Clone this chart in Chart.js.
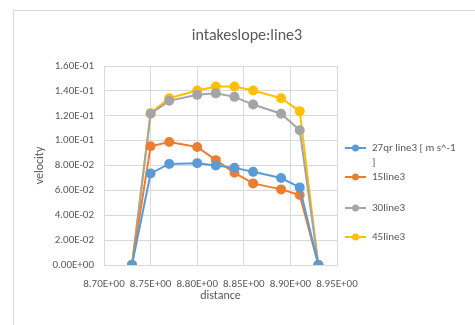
<!DOCTYPE html>
<html>
<head>
<meta charset="utf-8">
<script src="https://cdn.jsdelivr.net/npm/chart.js@4.4.1/dist/chart.umd.min.js"></script>
<style>
  html, body { margin: 0; padding: 0; background: #ffffff; }
  #wrap { width: 475px; height: 325px; }
</style>
</head>
<body>
<div id="wrap"><canvas id="c" width="475" height="325"></canvas></div>
<script>
// distance along the line (x) and velocity for each run
const distance = [8.73, 8.75, 8.77, 8.80, 8.82, 8.84, 8.86, 8.89, 8.91, 8.93];
const run27qr = [0, 0.0736, 0.0813, 0.0819, 0.0800, 0.0781, 0.0749, 0.0699, 0.0624, 0];
const run15   = [0, 0.0955, 0.0989, 0.0949, 0.0843, 0.0741, 0.0656, 0.0608, 0.0563, 0];
const run30   = [0, 0.1216, 0.1320, 0.1368, 0.1380, 0.1352, 0.1290, 0.1216, 0.1083, 0];
const run45   = [0, 0.1221, 0.1341, 0.1403, 0.1435, 0.1435, 0.1403, 0.1341, 0.1237, 0];
const seriesNames = ['27qr line3 [ m s^-1 ]', '15line3', '30line3', '45line3'];
const seriesColors = ['#5B9BD5', '#ED7D31', '#A5A5A5', '#FFC000'];
const xTicks = [8.70, 8.75, 8.80, 8.85, 8.90, 8.95];
const titleText = 'intakeslope:line3';

const FONT = "Carlito, 'Liberation Sans Narrow', 'Open Sans', sans-serif";
const TEXT = '#595959';

function sci(v) {
  const s = Number(v).toExponential(2).toUpperCase();
  const m = s.match(/^(-?[\d.]+)E([+-])(\d+)$/);
  if (!m) return s;
  return m[1] + 'E' + m[2] + m[3].padStart(2, '0');
}

const allSeries = [run27qr, run15, run30, run45];
const datasets = allSeries.map((vals, i) => ({
  label: seriesNames[i],
  data: vals.map((v, k) => ({ x: distance[k], y: v })),
  borderColor: seriesColors[i],
  backgroundColor: seriesColors[i],
  borderWidth: 2,
  pointRadius: 4,
  pointHoverRadius: 4,
  showLine: true,
  tension: 0
}));

// outer chart frame, title and right-hand legend
const decor = {
  id: 'decor',
  beforeDraw(chart) {
    const ctx = chart.ctx;
    ctx.save();
    ctx.fillStyle = '#ffffff';
    ctx.fillRect(0, 0, chart.width, chart.height);
    ctx.strokeStyle = '#D9D9D9';
    ctx.lineWidth = 1;
    ctx.strokeRect(13.5, 10.5, 600, 600);
    ctx.restore();
  },
  afterDraw(chart) {
    const ctx = chart.ctx;
    ctx.save();
    ctx.fillStyle = TEXT;
    ctx.font = "16px " + FONT;
    ctx.textAlign = 'center';
    ctx.textBaseline = 'middle';
    ctx.fillText(titleText, 247, 36);

    ctx.font = "11px " + FONT;
    ctx.textAlign = 'left';
    const ys = [148, 177, 208, 237];
    const maxW = 84;
    chart.data.datasets.forEach((ds, i) => {
      const y = ys[i];
      ctx.strokeStyle = ds.borderColor;
      ctx.fillStyle = ds.borderColor;
      ctx.lineWidth = 2;
      ctx.beginPath();
      ctx.moveTo(345, y);
      ctx.lineTo(366, y);
      ctx.stroke();
      ctx.beginPath();
      ctx.arc(355.5, y, 3.5, 0, Math.PI * 2);
      ctx.fill();
      // wrap long names onto a second line
      const words = ds.label.split(' ');
      const lines = [];
      let cur = '';
      words.forEach(w => {
        const test = cur ? cur + ' ' + w : w;
        if (ctx.measureText(test).width > maxW && cur) { lines.push(cur); cur = w; }
        else cur = test;
      });
      lines.push(cur);
      ctx.fillStyle = TEXT;
      lines.forEach((ln, j) => ctx.fillText(ln, 372, y + j * 14));
    });
    ctx.restore();
  }
};

new Chart(document.getElementById('c'), {
  type: 'scatter',
  data: { datasets },
  options: {
    responsive: false,
    animation: false,
    devicePixelRatio: 1,
    layout: { padding: { left: 13, right: 138, top: 66, bottom: 22 } },
    plugins: { legend: { display: false }, title: { display: false }, tooltip: { enabled: false } },
    scales: {
      x: {
        type: 'linear',
        min: 8.70, max: 8.95,
        afterBuildTicks(scale) { scale.ticks = xTicks.map(v => ({ value: v })); },
        afterFit(scale) { scale.height = 38; },
        grid: { color: '#D9D9D9', drawTicks: false },
        border: { color: '#D9D9D9' },
        ticks: { padding: 13, maxRotation: 0, autoSkip: false, color: TEXT, font: { family: FONT, size: 11 }, callback: v => sci(v) },
        title: { display: true, text: 'distance', color: TEXT, font: { family: FONT, size: 12 }, padding: { top: 0, bottom: 0 } }
      },
      y: {
        min: 0, max: 0.16,
        afterFit(scale) { scale.width = 91; },
        grid: { color: '#D9D9D9', drawTicks: false },
        border: { color: '#D9D9D9' },
        ticks: { stepSize: 0.02, padding: 10, color: TEXT, font: { family: FONT, size: 11 }, callback: v => sci(v) },
        title: { display: true, text: 'velocity', color: TEXT, font: { family: FONT, size: 12 }, padding: { top: 20, bottom: 0 } }
      }
    }
  },
  plugins: [decor]
});
</script>
</body>
</html>
